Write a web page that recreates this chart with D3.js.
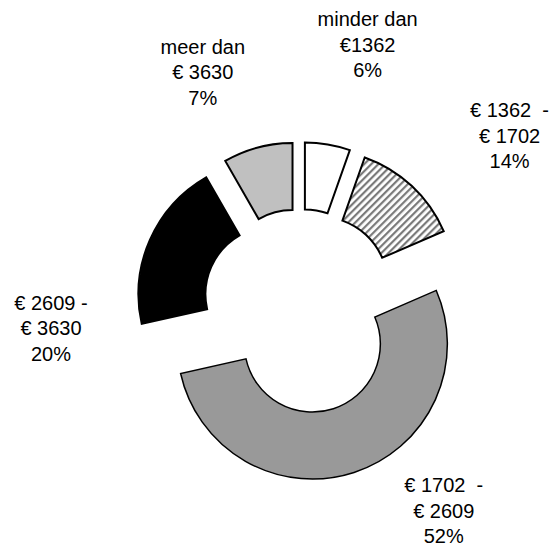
<!DOCTYPE html>
<html>
<head>
<meta charset="utf-8">
<script src="https://cdn.jsdelivr.net/npm/d3@7"></script>
<style>
  body { margin: 0; background: #fff; }
  text { font-family: "Liberation Sans", Arial, sans-serif; white-space: pre; }
</style>
</head>
<body>
<div id="chart"></div>
<script>
// slices, clockwise from 12 o'clock (sizes as drawn, labels as printed)
const categories = ["minder dan €1362", "€1362 - €1702", "€1702 - €2609", "€2609 - €3630", "meer dan €3630"];
const shares = [5.4, 13.1, 53.0, 20.2, 8.3];
const labelLines = [
    ["minder dan", "€1362", "6%"],
    ["€ 1362  -", "€ 1702", "14%"],
    ["€ 1702  -", "€ 2609", "52%"],
    ["€ 2609 -", "€ 3630", "20%"],
    ["meer dan", "€ 3630", "7%"]
];

const width = 556, height = 550;
const cx = 300, cy = 306;
const outerR = 135, innerR = 68;
const fills = ["#ffffff", "url(#hatch)", "#999999", "#000000", "#c0c0c0"];
// explosion of each slice away from the centre
const explode = i => i === 2 ? 40 : 29;
// label anchors, polar from the centre [degrees, radius]
const labelPolar = [[14.5, 270], [50.9, 270], [144.9, 250], [264.9, 250], [337.4, 253]];
const lineH = 25.5;

const svg = d3.select("#chart").append("svg")
    .attr("width", width)
    .attr("height", height);

const pat = svg.append("defs").append("pattern")
    .attr("id", "hatch")
    .attr("patternUnits", "userSpaceOnUse")
    .attr("width", 5)
    .attr("height", 5)
    .attr("patternTransform", "rotate(45)");
pat.append("rect").attr("width", 5).attr("height", 5).attr("fill", "#fff");
pat.append("rect").attr("width", 2.2).attr("height", 5).attr("fill", "#7a7a7a");

const pie = d3.pie().sort(null).value(d => d);
const arc = d3.arc().innerRadius(innerR).outerRadius(outerR);
const arcs = pie(shares);

const g = svg.append("g").attr("transform", `translate(${cx},${cy})`);

g.selectAll("path")
    .data(arcs)
    .join("path")
    .attr("transform", (d, i) => {
        const [x, y] = d3.pointRadial((d.startAngle + d.endAngle) / 2, explode(i));
        return `translate(${x},${y})`;
    })
    .attr("d", arc)
    .attr("fill", (d, i) => fills[i])
    .attr("stroke", "#000")
    .attr("stroke-width", (d, i) => i === 2 ? 1.5 : 2)
    .attr("stroke-linejoin", "miter");

// labels
const lab = g.selectAll("text.lbl")
    .data(labelLines)
    .join("text")
    .attr("class", "lbl")
    .attr("text-anchor", "middle")
    .attr("font-size", 20)
    .attr("fill", "#000")
    .attr("transform", (d, i) => {
        const [x, y] = d3.pointRadial(labelPolar[i][0] * Math.PI / 180, labelPolar[i][1]);
        return `translate(${x},${y})`;
    });

lab.selectAll("tspan")
    .data(d => d)
    .join("tspan")
    .attr("x", 0)
    .attr("y", (d, j) => (j - 1) * lineH + 7)
    .text(d => d);
</script>
</body>
</html>
